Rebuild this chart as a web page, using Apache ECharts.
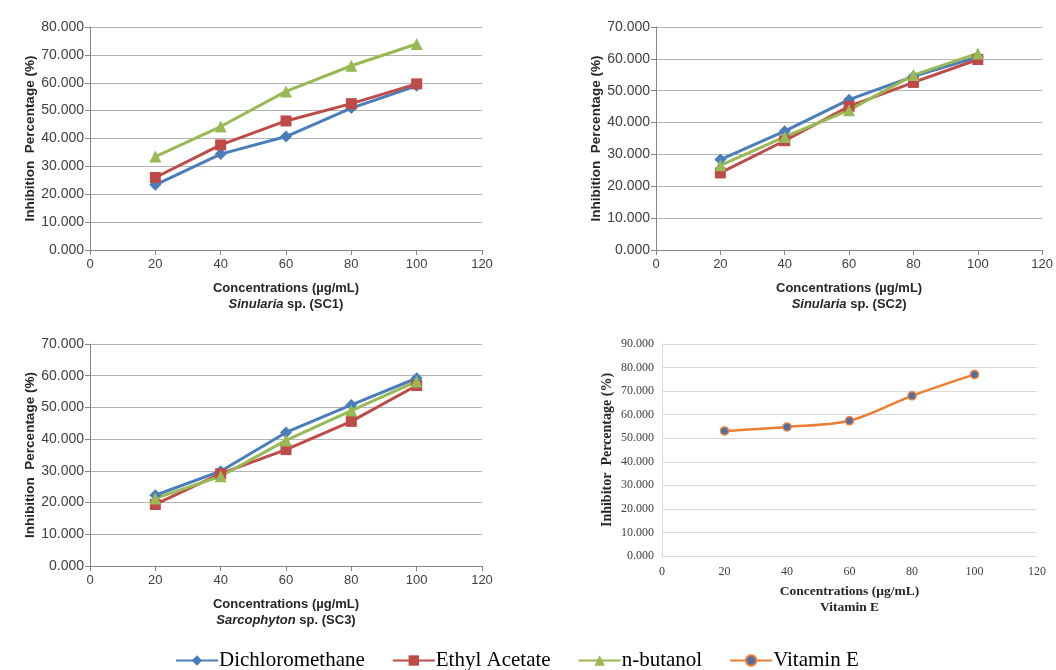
<!DOCTYPE html>
<html>
<head>
<meta charset="utf-8">
<script src="https://cdn.jsdelivr.net/npm/echarts@6/dist/echarts.min.js"></script>
<style>
  html, body { margin: 0; padding: 0; background: #fff; }
  #container { width: 1056px; height: 670px; }
</style>
</head>
<body>
<div id="container"></div>
<script>
// concentrations (µg/mL)
var conc = [20, 40, 60, 80, 100];

// Sinularia sp. (SC1)
var sc1Dcm = [23.4, 34.4, 40.7, 50.9, 58.9];
var sc1Ea = [26.0, 37.7, 46.3, 52.5, 59.6];
var sc1Bu = [33.5, 44.3, 56.9, 66.1, 73.9];

// Sinularia sp. (SC2)
var sc2Dcm = [28.4, 37.3, 47.2, 54.5, 60.6];
var sc2Ea = [24.2, 34.3, 45.1, 52.6, 59.8];
var sc2Bu = [26.6, 35.5, 43.9, 54.9, 61.7];

// Sarcophyton sp. (SC3)
var sc3Dcm = [22.3, 29.9, 42.1, 50.8, 59.2];
var sc3Ea = [19.4, 29.1, 36.7, 45.6, 56.9];
var sc3Bu = [21.3, 28.3, 39.6, 49.0, 58.2];

// Vitamin E
var vitE = [53.1, 54.8, 57.4, 68.0, 77.1];

function pairs(ys) {
    return conc.map(function (x, i) { return [x, ys[i]]; });
}

var myChart = echarts.init(document.getElementById('container'));

var SANS = 'Liberation Sans, Arial, sans-serif';
var SERIF = 'Liberation Serif, Times New Roman, serif';

function xAxisExcel(grid, sub) {
    return {
        type: 'value', gridIndex: grid, min: 0, max: 120, interval: 20,
        axisLine: { lineStyle: { color: '#868686', width: 1 } },
        axisTick: { show: true, length: 5, lineStyle: { color: '#868686' } },
        axisLabel: { margin: 8, color: '#404040', fontSize: 13, fontFamily: SANS },
        splitLine: { show: false },
        name: '{b|Concentrations (µg/mL)}\n{i|' + sub[0] + '}{b|' + sub[1] + '}',
        nameLocation: 'middle', nameGap: 30,
        nameTextStyle: {
            rich: {
                b: { fontFamily: SANS, fontWeight: 'bold', fontSize: 13, color: '#262626', lineHeight: 16 },
                i: { fontFamily: SANS, fontWeight: 'bold', fontStyle: 'italic', fontSize: 13, color: '#262626', lineHeight: 16 }
            }
        }
    };
}

function yAxisExcel(grid, max) {
    return {
        type: 'value', gridIndex: grid, min: 0, max: max, interval: 10,
        axisLine: { show: true, lineStyle: { color: '#868686', width: 1 } },
        axisTick: { show: true, length: 5, lineStyle: { color: '#868686' } },
        axisLabel: {
            margin: 6, color: '#404040', fontSize: 14, fontFamily: SANS,
            formatter: function (v) { return v.toFixed(3); }
        },
        splitLine: { lineStyle: { color: '#b3b3b3', width: 1 } },
        name: 'Inhibition  Percentage (%)',
        nameLocation: 'middle', nameGap: 53, nameRotate: 90,
        nameTextStyle: { fontFamily: SANS, fontWeight: 'bold', fontSize: 13.5, color: '#262626' }
    };
}

function excelSeries(name, grid, ys) {
    var styles = {
        'Dichloromethane': { color: '#4a7ebb', symbol: 'diamond', size: 12 },
        'Ethyl Acetate': { color: '#be4b48', symbol: 'rect', size: 11 },
        'n-butanol': { color: '#98b954', symbol: 'triangle', size: 12 }
    };
    var s = styles[name];
    return {
        name: name, type: 'line', xAxisIndex: grid, yAxisIndex: grid,
        data: pairs(ys), symbol: s.symbol, symbolSize: s.size,
        lineStyle: { color: s.color, width: 3 },
        itemStyle: { color: s.color },
        emphasis: { disabled: true }
    };
}

var option = {
    backgroundColor: '#fff',
    animation: false,
    legend: {
        top: 645, left: 170, itemGap: 27, itemWidth: 42, itemHeight: 13,
        textStyle: { fontFamily: SERIF, fontSize: 21, color: '#000', padding: [0, 0, 0, -4] },
        data: ['Dichloromethane', 'Ethyl Acetate', 'n-butanol', 'Vitamin E']
    },
    grid: [
        { left: 90, right: 574, top: 27, bottom: 420 },
        { left: 656, right: 9, top: 27, bottom: 420 },
        { left: 90, right: 574, top: 344, bottom: 104 },
        { left: 662, right: 19, top: 344, bottom: 114 }
    ],
    xAxis: [
        xAxisExcel(0, ['Sinularia', ' sp. (SC1)']),
        xAxisExcel(1, ['Sinularia', ' sp. (SC2)']),
        xAxisExcel(2, ['Sarcophyton', ' sp. (SC3)']),
        {
            type: 'value', gridIndex: 3, min: 0, max: 120, interval: 20,
            axisLine: { lineStyle: { color: '#d9d9d9' } },
            axisTick: { show: false },
            axisLabel: { margin: 10, color: '#404040', fontSize: 12, fontFamily: SERIF },
            splitLine: { show: false },
            name: 'Concentrations (µg/mL)\nVitamin E',
            nameLocation: 'middle', nameGap: 28,
            nameTextStyle: { fontFamily: SERIF, fontWeight: 'bold', fontSize: 13.5, color: '#262626', lineHeight: 16 }
        }
    ],
    yAxis: [
        yAxisExcel(0, 80),
        yAxisExcel(1, 70),
        yAxisExcel(2, 70),
        {
            type: 'value', gridIndex: 3, min: 0, max: 90, interval: 10,
            axisLine: { show: true, lineStyle: { color: '#d9d9d9' } },
            axisTick: { show: false },
            axisLabel: {
                margin: 8, color: '#404040', fontSize: 12, fontFamily: SERIF,
                formatter: function (v) { return v.toFixed(3); }
            },
            splitLine: { lineStyle: { color: '#d9d9d9', width: 1 } },
            name: 'Inhibitor  Percentage (%)',
            nameLocation: 'middle', nameGap: 48, nameRotate: 90,
            nameTextStyle: { fontFamily: SERIF, fontWeight: 'bold', fontSize: 14, color: '#262626' }
        }
    ],
    series: [
        excelSeries('Dichloromethane', 0, sc1Dcm),
        excelSeries('Ethyl Acetate', 0, sc1Ea),
        excelSeries('n-butanol', 0, sc1Bu),
        excelSeries('Dichloromethane', 1, sc2Dcm),
        excelSeries('Ethyl Acetate', 1, sc2Ea),
        excelSeries('n-butanol', 1, sc2Bu),
        excelSeries('Dichloromethane', 2, sc3Dcm),
        excelSeries('Ethyl Acetate', 2, sc3Ea),
        excelSeries('n-butanol', 2, sc3Bu),
        {
            name: 'Vitamin E', type: 'line', xAxisIndex: 3, yAxisIndex: 3,
            data: pairs(vitE), smooth: 0.3, symbol: 'circle', symbolSize: 8,
            lineStyle: { color: '#ed7d31', width: 2.5 },
            itemStyle: { color: '#4f6ea6', borderColor: '#ed7d31', borderWidth: 1.5 },
            emphasis: { disabled: true }
        }
    ]
};

myChart.setOption(option);
</script>
</body>
</html>
